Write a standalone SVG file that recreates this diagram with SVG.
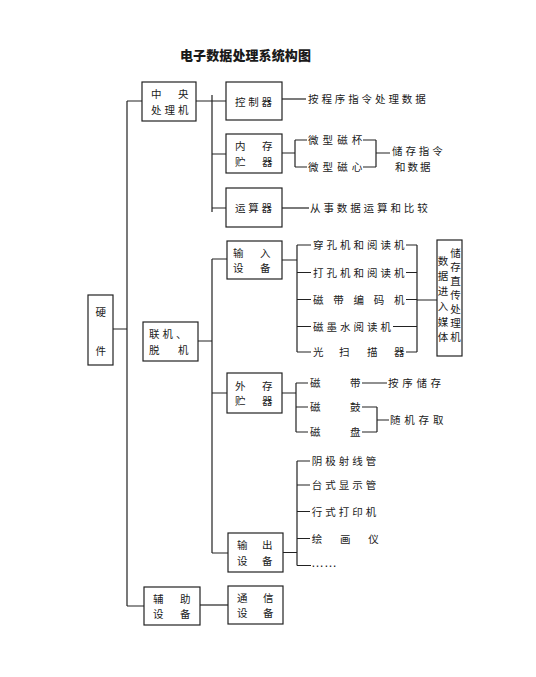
<svg xmlns="http://www.w3.org/2000/svg" width="536" height="677" viewBox="0 0 536 677">
<style>
.bx{fill:#fff;stroke:#222;stroke-width:1.2}
.ln{fill:none;stroke:#222;stroke-width:1.2}
text{font-family:"Noto Sans CJK SC","Noto Sans CJK JP",sans-serif;font-size:10.5px;fill:#1a1a1a}
.ttl{font-size:13px;font-weight:900;letter-spacing:0.1px}
.dots{font-family:"Liberation Sans",sans-serif;font-size:13px}
.v{writing-mode:vertical-rl;text-orientation:upright}
</style>
<rect width="536" height="677" fill="#fff"/>
<text class="ttl" x="180" y="60">电子数据处理系统构图</text>

<g id="connectors">
<path class="ln" d="M127 101V606M127 101H142M113 329H127M127 606H144"/>
<path class="ln" d="M196 101H212M212 95V212M212 101H226M212 154H226M212 208H226"/>
<path class="ln" d="M282 99H306"/>
<path class="ln" d="M282 153H295M295 140V167M295 140H307M295 167H307M363 140H376M363 167H376M376 140V167M376 153H390"/>
<path class="ln" d="M282 208H309"/>
<path class="ln" d="M198 341H212M212 259V553M212 259H227M212 393H227M212 553H228"/>
<path class="ln" d="M282 260H297M297 245V352M297 245H311M297 272.5H311M297 299.5H311M297 326.5H311M297 352H311"/>
<path class="ln" d="M406 245H417M406 272.5H417M406 299.5H417M393 326.5H417M406 352H417M417 245V352M417 300H437"/>
<path class="ln" d="M282 393H296M296 383V432M296 383H308M296 407H308M296 432H308M362 383H387M362 407H377M362 432H377M377 407V432M377 420H389"/>
<path class="ln" d="M283 552.5H297M297 461V565.5M297 461H310M297 485H310M297 511.5H310M297 538.5H310M297 565.5H311"/>
<path class="ln" d="M200 605H228"/>
</g>

<g id="hardware">
<rect class="bx" x="88" y="295" width="25" height="70"/>
<text x="95.5" y="316">硬</text>
<text x="95.5" y="355">件</text>
</g>

<g id="cpu">
<rect class="bx" x="142" y="82" width="54" height="39"/>
<text x="151 178" y="98">中央</text>
<text x="151 164.5 178" y="113.5">处理机</text>
</g>

<g id="online">
<rect class="bx" x="143" y="322" width="55" height="39"/>
<text x="149 162.5 176" y="338">联机、</text>
<text x="149 178" y="353.5">脱机</text>
</g>

<g id="auxiliary">
<rect class="bx" x="144" y="587" width="56" height="38"/>
<text x="153 180" y="602.5">辅助</text>
<text x="153 180" y="618">设备</text>
</g>

<g id="controller">
<rect class="bx" x="226" y="82" width="56" height="38"/>
<text x="235 248.3 261.6" y="105.5">控制器</text>
</g>
<g id="memory">
<rect class="bx" x="226" y="134" width="56" height="39"/>
<text x="235 262" y="150">内存</text>
<text x="235 262" y="165.5">贮器</text>
</g>
<g id="alu">
<rect class="bx" x="226" y="188" width="56" height="39"/>
<text x="235 248.3 261.6" y="212">运算器</text>
</g>

<g id="input">
<rect class="bx" x="227" y="241" width="55" height="38"/>
<text x="233 260" y="256.5">输入</text>
<text x="233 260" y="272">设备</text>
</g>
<g id="extstore">
<rect class="bx" x="227" y="373" width="55" height="40"/>
<text x="235 262" y="389.5">外存</text>
<text x="235 262" y="405">贮器</text>
</g>
<g id="output">
<rect class="bx" x="228" y="533" width="55" height="39"/>
<text x="237 262" y="549">输出</text>
<text x="237 262" y="564.5">设备</text>
</g>
<g id="comm">
<rect class="bx" x="228" y="586" width="55" height="38"/>
<text x="237 263" y="601.5">通信</text>
<text x="237 263" y="617">设备</text>
</g>

<g id="cpu-notes">
<text x="308 321.4 334.8 348.2 361.6 375 388.4 401.8 415.2" y="103">按程序指令处理数据</text>
<text x="308 322.6 337.2 351.8" y="144">微型磁杯</text>
<text x="308 322.6 337.2 351.8" y="171">微型磁心</text>
<text x="392 405.4 418.8 432.2" y="155">储存指令</text>
<text x="395 407.5 420" y="170.5">和数据</text>
<text x="310 323.4 336.8 350.2 363.6 377 390.4 403.8 417.2" y="212">从事数据运算和比较</text>
</g>

<g id="input-items">
<text x="313 326.5 340 353.5 367 380.5 394" y="249">穿孔机和阅读机</text>
<text x="313 326.5 340 353.5 367 380.5 394" y="276.5">打孔机和阅读机</text>
<text x="313 333.25 353.5 373.75 394" y="303.5">磁带编码机</text>
<text x="313 326.5 340 353.5 367 380.5" y="330.5">磁墨水阅读机</text>
<text x="313 339 367 394" y="356">光扫描器</text>
</g>

<g id="media">
<rect class="bx" x="437" y="240" width="25" height="116"/>
<text class="v" x="443" y="255.5" style="letter-spacing:4.7px">数据进入媒体</text>
<text class="v" x="455.5" y="247.5" style="letter-spacing:3.5px">储存直传处理机</text>
</g>

<g id="ext-items">
<text x="310 350" y="387">磁带</text>
<text x="310 350" y="411">磁鼓</text>
<text x="310 350" y="436">磁盘</text>
<text x="388 402.2 416.4 430.6" y="387">按序储存</text>
<text x="390 404.3 418.6 432.9" y="424">随机存取</text>
</g>

<g id="output-items">
<text x="311.7 325.2 338.7 352.2 365.7" y="465">阴极射线管</text>
<text x="311.7 325.2 338.7 352.2 365.7" y="489">台式显示管</text>
<text x="311.7 325.2 338.7 352.2 365.7" y="515.5">行式打印机</text>
<text x="311.7 340 368.3" y="542.5">绘画仪</text>
<text class="dots" x="311" y="567">……</text>
</g>
</svg>
